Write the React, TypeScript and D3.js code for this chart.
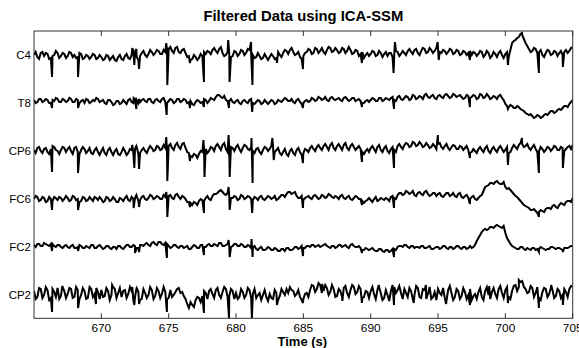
import React from 'react';
import * as d3 from 'd3';

const T0 = 665;
const STEP = 0.25;
const xTicks = [670, 675, 680, 685, 690, 695, 700, 705];
const channelNames = ['C4', 'T8', 'CP6', 'FC6', 'FC2', 'CP2'];
const channelOffsets = [240, 192, 144, 96, 48, 0];

// samples at T0 + k*STEP
const c4Base = [
  0,-2,2,-1,1,-3,0,2,-1,1,
  -1,2,0,-2,1,-3,-1,-2,0,-3,
  -2,-4,-1,-3,-5,-2,-4,-1,-3,0,
  3,-5,2,0,1,3,2,4,1,3,
  6,4,7,3,5,2,-1,-4,-2,-3,
  -1,1,3,5,4,6,2,0,1,-1,
  3,1,4,2,5,0,-2,-1,-3,-2,
  -2,-1,-3,0,2,4,5,3,1,-2,
  -1,3,5,2,6,4,3,5,7,4,
  5,3,6,4,5,2,4,1,-3,2,
  1,3,0,2,1,-1,2,0,3,1,
  2,4,3,5,2,4,6,3,5,4,
  7,2,4,3,5,2,4,1,3,2,
  0,2,1,3,0,2,-1,1,2,0,
  1,-2,12,15,18,20,12,6,4,6,
  3,0,2,4,1,3,2,0,5,4,8
];
// samples at T0 + (k+0.5)*STEP
const c4Mid = [
  3,-4,3,2,-4,-1,4,-3,2,-3,
  3,-2,-3,2,-4,0,-4,1,-4,0,
  -5,0,-5,-1,-6,0,-5,1,-4,4,
  -2,-1,4,-2,5,0,5,1,5,6,
  8,2,8,2,6,-2,-5,0,-5,1,
  3,4,1,7,2,8,-1,3,-2,4,
  -1,5,0,6,1,-3,2,-4,1,-5,
  1,-4,3,-2,5,1,7,0,3,-4,
  2,6,1,7,2,7,1,8,3,7,
  2,7,2,8,1,5,-1,3,0,-1,
  4,-1,4,-2,3,2,-2,4,-1,4,
  0,6,1,6,0,7,2,7,2,7,
  3,5,1,6,1,5,0,4,0,4,
  3,-1,4,-2,4,-3,3,-2,4,-3,
  3,5,14,17,21,16,9,3,7,2,
  5,-2,5,0,4,-1,4,3,2,7
];
const c4Spikes = [
  [666.34,-22],[668.27,-22],[672.3,7],[672.45,-10],[672.6,6],[672.8,-14],[674.82,12],[674.9,-30],
  [676.58,-8],[677.62,-27],[679.42,15],[679.52,-27],[681.12,13],[681.22,-30],[683.04,-8],[684.97,-14],
  [689.35,-8],[691.7,-18],[691.8,13],[694.97,13],[695.05,-5],[697.37,-5],[700.19,-10],[701.23,22],
  [702.49,-18],[704.27,-12]
];

const t8Base = [
  3,1,4,2,3,0,2,4,1,3,
  2,4,1,3,2,0,3,1,2,4,
  2,0,3,1,-1,2,0,1,3,1,
  4,0,3,2,4,1,3,2,4,1,
  2,3,1,4,2,3,1,-1,1,2,
  1,3,2,4,6,8,5,3,2,1,
  2,0,2,1,3,0,1,2,0,1,
  1,2,0,2,3,4,2,1,3,1,
  0,3,2,4,3,5,4,3,5,4,
  4,3,5,4,3,5,3,2,0,3,
  3,4,2,5,3,4,5,3,6,4,
  5,6,4,7,5,6,8,6,7,5,
  7,6,8,7,6,8,7,6,5,7,
  6,7,5,8,6,7,5,6,7,5,
  -1,-4,-3,-5,-4,-7,-10,-12,-13,-14,
  -13,-14,-11,-10,-8,-9,-6,-5,-3,-1,3
];
const t8Mid = [
  0,4,1,4,0,3,5,1,4,1,
  5,1,4,0,3,4,0,3,5,1,
  3,-1,3,-2,2,-1,3,-1,4,0,
  3,1,4,1,4,0,4,1,5,0,
  4,0,4,1,4,0,2,-2,3,0,
  4,0,5,3,8,6,7,2,4,0,
  3,-1,3,0,4,-1,3,-1,3,-1,
  3,-1,3,1,5,2,4,0,4,-1,
  2,1,5,2,6,3,6,2,6,3,
  5,2,6,2,5,2,4,0,2,1,
  5,2,5,2,5,3,6,2,7,3,
  7,3,8,4,7,4,9,5,8,4,
  8,5,9,5,9,6,8,4,8,5,
  8,4,9,5,9,4,7,4,8,3,
  -3,-2,-5,-3,-6,-8,-11,-11,-15,-12,
  -15,-12,-12,-8,-10,-7,-7,-3,-4,1
];
const t8Spikes = [
  [666.34,-5],[668.27,-5],[672.4,5],[672.6,-6],[672.8,4],[674.85,-12],[676.58,-5],[677.62,-4],
  [679.48,-5],[681.2,-9],[684.97,-5],[689.35,-4],[691.73,-6],[697.37,-4],[700.19,-6]
];

const cp6Base = [
  1,3,0,2,-1,2,4,0,1,3,
  2,0,3,-1,1,2,0,-2,1,-1,
  0,-2,1,-1,0,-3,-1,0,-2,1,
  2,-3,1,0,2,3,1,4,2,3,
  5,3,6,4,7,3,-2,-6,-4,-3,
  -1,2,0,3,5,4,6,2,1,3,
  4,2,3,5,1,0,2,-1,1,3,
  2,4,1,-2,-1,-3,0,-2,1,-1,
  -2,1,3,2,4,3,5,4,6,3,
  5,4,6,3,5,4,3,2,-3,2,
  3,2,4,1,3,0,2,1,5,4,
  6,7,5,8,6,7,5,6,4,5,
  7,4,5,3,4,5,2,4,3,1,
  -1,0,2,1,3,0,2,1,3,2,
  1,-2,3,4,6,7,5,3,4,2,
  0,2,1,3,2,4,1,3,2,5,6
];
const cp6Mid = [
  -2,4,-2,3,-3,5,1,-3,4,-1,
  4,-3,4,-3,4,-2,3,-3,3,-4,
  3,-4,3,-4,2,-4,3,-4,2,-2,
  4,-2,3,-2,5,0,5,1,6,0,
  7,1,8,2,8,-1,-5,-3,-7,0,
  3,-2,4,0,7,1,8,-1,4,0,
  6,-1,6,2,4,-2,3,-3,4,0,
  5,-1,3,-4,2,-5,2,-4,3,-4,
  2,-1,5,0,6,1,7,1,8,1,
  7,1,8,1,7,1,5,-1,0,-1,
  5,-1,6,-1,5,-2,4,-1,7,2,
  8,4,9,5,9,4,8,3,7,2,
  8,2,7,1,6,2,5,1,5,-2,
  2,-2,4,-1,5,-2,4,-1,5,-1,
  4,-1,6,2,8,4,7,1,6,-1,
  4,-1,4,0,5,1,4,0,4,2
];
const cp6Spikes = [
  [666.34,-21],[668.27,-22],[672.3,6],[672.45,-17],[672.6,5],[672.8,-18],[674.82,14],[674.9,-30],
  [676.58,-10],[677.58,11],[677.66,-26],[679.45,16],[679.53,-26],[681.15,13],[681.23,-32],[682.7,13],
  [682.8,-9],[684.97,-12],[689.35,-11],[691.73,-17],[694.99,16],[697.37,-7],[700.19,-14],[701.23,13],
  [702.49,-22],[704.27,-17]
];

const fc6Base = [
  0,2,-1,1,-2,0,2,-1,1,0,
  1,-1,2,0,-2,1,-1,0,2,-1,
  0,-2,1,-1,0,-3,0,1,-1,2,
  1,-2,2,0,1,3,1,2,0,2,
  3,1,4,2,3,0,-3,-6,-4,-2,
  -1,1,0,3,5,8,7,4,2,1,
  2,0,3,1,2,-1,1,2,0,1,
  2,1,-1,2,4,5,7,6,3,1,
  -1,2,1,3,2,1,3,2,4,1,
  2,3,1,2,0,1,2,0,-4,-1,
  -1,0,-2,1,-1,0,2,1,4,6,
  5,7,6,4,6,5,7,5,4,6,
  5,3,4,6,4,3,5,2,3,1,
  2,0,1,4,12,14,16,17,16,15,
  12,11,7,3,0,-4,-7,-9,-11,-12,
  -13,-12,-10,-9,-7,-8,-6,-5,-3,-2,1
];
const fc6Mid = [
  3,-2,2,-3,2,-2,1,2,-2,3,
  -2,3,-1,-3,2,-2,2,-2,1,2,
  -3,2,-2,2,-3,1,-2,3,-2,0,
  3,-1,3,-1,4,0,3,0,4,0,
  4,0,5,0,2,-3,-4,-3,-6,0,
  -2,3,-1,5,6,9,5,6,1,3,
  -1,4,0,3,0,2,-1,3,-1,3,
  0,3,0,4,2,7,5,7,1,3,
  1,3,0,4,0,4,1,5,2,3,
  0,4,0,3,-1,3,0,-2,-2,1,
  -3,2,-1,0,1,-2,3,0,6,4,
  8,5,8,3,7,4,8,3,6,3,
  6,2,6,3,6,2,6,1,4,0,
  3,-1,3,8,13,16,15,18,15,17,
  10,9,5,2,-2,-6,-8,-11,-10,-14,
  -11,-13,-9,-10,-6,-9,-4,-6,-2,-3
];
const fc6Spikes = [
  [666.34,-11],[668.27,-11],[672.4,-9],[672.6,4],[672.8,-8],[674.82,7],[674.9,-18],[676.58,-8],
  [677.62,-14],[679.45,12],[679.53,-11],[681.2,-14],[684.97,-9],[689.35,-6],[691.73,-9],[697.37,-5],
  [702.49,-18]
];

const fc2Base = [
  2,3,1,4,2,3,1,2,0,1,
  0,1,-1,0,1,-1,0,2,-1,1,
  0,-1,1,-2,0,1,-1,0,2,0,
  1,-1,2,3,2,4,3,5,3,4,
  1,0,2,-1,1,0,-2,0,1,-1,
  2,0,3,1,2,4,1,2,0,1,
  3,1,2,0,1,-1,-2,-1,-3,-2,
  -1,-3,-2,-4,-2,-1,-3,-2,0,-1,
  -1,1,0,2,1,0,2,1,-1,1,
  0,2,1,0,2,1,0,-1,-3,-2,
  -2,-3,-4,-2,-5,-3,-4,-2,0,1,
  2,0,1,-1,0,1,-1,0,-2,-1,
  0,-1,1,-2,0,-1,1,-2,0,-1,
  -1,2,9,15,18,18,20,21,21,19,
  14,6,1,-1,-2,0,-3,-2,-1,-3,
  -2,-1,-3,-2,0,-2,-1,-3,-1,0,1
];
const fc2Mid = [
  0,3,1,3,1,3,0,2,-1,2,
  -1,2,-1,2,-1,1,-1,2,-1,2,
  -2,1,-1,0,-2,1,-2,2,0,2,
  -1,2,1,4,1,5,2,5,2,3,
  -1,2,0,1,-1,1,-2,2,-1,2,
  0,2,1,3,1,4,1,3,0,3,
  1,3,0,2,-1,1,-3,0,-3,0,
  -3,-1,-4,-2,-4,-1,-3,0,-2,1,
  -1,1,2,0,2,1,3,0,1,-1,
  2,0,2,-1,3,0,1,-3,-1,-3,
  -1,-4,-2,-4,-3,-5,-2,-3,1,0,
  2,-1,1,0,-1,1,-1,1,-2,0,
  -2,1,-1,0,-2,1,-1,0,-2,1,
  0,6,12,17,17,20,19,22,20,21,
  9,3,0,-2,0,-2,-1,-3,-1,-2,
  0,-2,-2,0,-1,-1,-2,-1,-1,1
];
const fc2Spikes = [
  [666.34,-4],[668.27,-4],[672.5,-6],[672.8,-5],[674.87,-11],[677.62,-8],[679.45,7],[679.53,-10],
  [681.15,8],[681.23,-10],[684.97,-9],[689.35,-6],[691.73,-10],[702.49,-5],[704.27,-5]
];

const cp2Base = [
  4,-2,6,0,5,-3,3,7,-1,4,
  1,6,-2,5,0,4,-3,6,1,3,
  5,-1,4,0,6,2,-2,5,1,4,
  -2,3,-4,2,0,5,-1,4,1,3,
  -3,-2,3,7,3,-4,-13,-10,-5,-3,
  -1,2,4,1,5,0,3,6,-1,4,
  2,-2,3,0,5,1,-3,2,0,-2,
  1,-4,2,-1,3,6,8,4,1,-2,
  -4,2,5,9,6,10,4,7,3,6,
  -1,4,7,2,5,8,3,6,-2,3,
  4,1,5,2,-3,0,4,8,5,2,
  6,-2,4,0,7,-3,5,1,-4,3,
  6,0,-3,5,2,-2,4,-1,3,0,
  -5,1,3,-2,4,0,3,1,6,2,
  5,-2,4,10,8,14,6,3,7,2,
  -3,3,6,1,5,-1,4,0,3,6,8
];
const cp2Mid = [
  -4,7,-3,8,-5,6,-2,-4,8,-3,
  7,-3,8,-4,7,-4,8,-2,7,-4,
  -2,7,-5,8,-3,7,4,-3,8,-5,
  7,-5,6,-3,8,-4,7,-3,8,-4,
  5,0,6,2,-1,-9,-7,-12,-2,-7,
  4,-4,6,-3,7,-3,8,-2,6,-4,
  -4,6,-3,7,-3,6,0,-5,5,-6,
  -3,5,-5,6,0,2,5,-1,5,-5,
  1,-2,10,3,12,2,10,0,10,-2,
  6,-2,9,-2,10,1,9,-3,4,-3,
  8,-4,8,-5,5,-6,10,2,9,-4,
  2,7,-4,9,-2,6,-4,8,-2,-5,
  2,7,-6,9,-5,6,-4,7,-4,6,
  -1,-4,7,-5,8,-4,7,-3,9,-3,
  8,-4,9,4,13,8,2,9,-2,8,
  -5,7,-2,7,-3,6,-3,6,-2,9
];
const cp2Spikes = [
  [666.34,-17],[667.1,9],[668.27,-13],[669.6,-9],[670.8,10],[672.3,8],[672.45,-10],[672.6,6],
  [672.8,-9],[674.87,-17],[677.62,-18],[679.48,-23],[681.18,-23],[683.04,-10],[684.97,-8],[686.4,11],
  [687.9,-6],[689.35,-8],[690.6,10],[691.73,-10],[693.2,-8],[694.1,10],[695.6,-9],[697.37,-10],
  [698.8,9],[700.19,-8],[701.0,15],[702.49,-13],[703.4,10],[704.27,-10]
];

const bases = [c4Base, t8Base, cp6Base, fc6Base, fc2Base, cp2Base];
const mids = [c4Mid, t8Mid, cp6Mid, fc6Mid, fc2Mid, cp2Mid];
const spikes = [c4Spikes, t8Spikes, cp6Spikes, fc6Spikes, fc2Spikes, cp2Spikes];

const W = 579, H = 348;
const LEFT = 34, RIGHT = 572.7, TOP = 31, BOTTOM = 318.3;
const FONT = '"Liberation Sans", Arial, Helvetica, sans-serif';

export default function App() {
  const x = d3.scaleLinear().domain([665, 705]).range([LEFT, RIGHT]);
  const y = d3.scaleLinear().domain([-23.3, 264]).range([BOTTOM, TOP]);
  const line = d3.line<[number, number]>().x(d => x(d[0])).y(d => y(d[1]));

  const paths = bases.map((b, i) => {
    const off = channelOffsets[i];
    const pts: [number, number][] = b.map((v, k) => [T0 + k * STEP, v + off]);
    mids[i].forEach((v, k) => pts.push([T0 + (k + 0.5) * STEP, v + off]));
    spikes[i].forEach(s => pts.push([s[0], s[1] + off]));
    pts.sort((a, c) => a[0] - c[0]);
    return line(pts) || '';
  });

  return (
    <svg width={W} height={H} style={{ position: 'absolute', left: 0, top: 0, background: '#fff' }}>
      <rect x={0} y={0} width={W} height={H} fill="#fff" />
      <defs>
        <clipPath id="plotclip">
          <rect x={LEFT} y={TOP} width={RIGHT - LEFT} height={BOTTOM - TOP} />
        </clipPath>
      </defs>
      <text x={(LEFT + RIGHT) / 2} y={20.5} textAnchor="middle" fontFamily={FONT} fontWeight="bold" fontSize={14.8} fill="#000">
        Filtered Data using ICA-SSM
      </text>
      <g clipPath="url(#plotclip)">
        {paths.map((p, i) => (
          <path key={i} d={p} fill="none" stroke="#000" strokeWidth={2} />
        ))}
      </g>
      <rect x={LEFT} y={TOP} width={RIGHT - LEFT} height={BOTTOM - TOP} fill="none" stroke="#333" strokeWidth={1} />
      {xTicks.map(t => (
        <g key={t}>
          <line x1={x(t)} x2={x(t)} y1={BOTTOM} y2={BOTTOM - 5} stroke="#333" />
          <line x1={x(t)} x2={x(t)} y1={TOP} y2={TOP + 5} stroke="#333" />
          <text x={x(t)} y={331.5} textAnchor="middle" fontFamily={FONT} fontSize={11.8} fill="#000">{t}</text>
        </g>
      ))}
      {channelNames.map((n, i) => (
        <text key={n} x={31} y={y(channelOffsets[i]) + 4.2} textAnchor="end" fontFamily={FONT} fontSize={11.5} fill="#000">{n}</text>
      ))}
      <text x={(LEFT + RIGHT) / 2 - 1} y={345.5} textAnchor="middle" fontFamily={FONT} fontWeight="bold" fontSize={13} fill="#000">Time (s)</text>
    </svg>
  );
}
